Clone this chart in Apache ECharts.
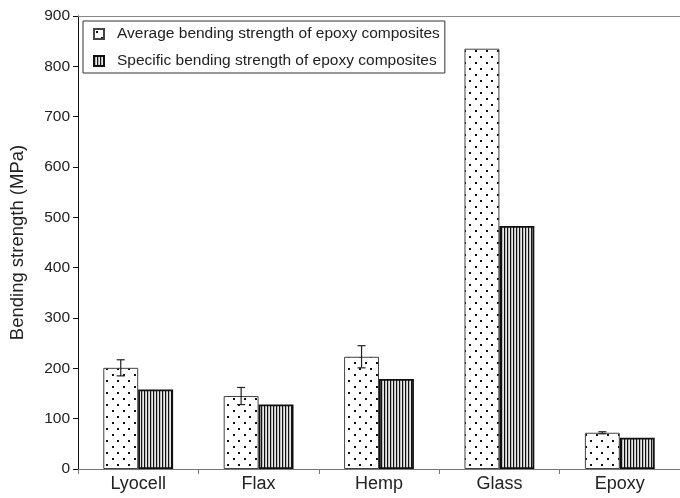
<!DOCTYPE html>
<html><head><meta charset="utf-8">
<script src="https://cdn.jsdelivr.net/npm/echarts@6/dist/echarts.min.js"></script>
<style>html,body{margin:0;padding:0;background:#fff}#c{width:680px;height:498px}</style>
</head><body><div id="c"></div>
<script>
const categories = ['Lyocell', 'Flax', 'Hemp', 'Glass', 'Epoxy'];
const avgStrength = [201, 145, 223, 835, 72];
const avgError = [16, 17, 22, 0, 2];
const specStrength = [158, 128, 179, 483, 62];
const seriesNames = ['Average bending strength of epoxy composites', 'Specific bending strength of epoxy composites'];
const yTicks = { min: 0, max: 900, interval: 100 };

function dotsPattern() {
  const c = document.createElement('canvas');
  c.width = 11; c.height = 12;
  const g = c.getContext('2d');
  g.fillStyle = '#fff'; g.fillRect(0, 0, 11, 12);
  g.fillStyle = '#111';
  g.fillRect(2, 2, 2, 2);
  g.fillRect(7, 8, 2, 2);
  return c;
}
function stripesPattern() {
  const c = document.createElement('canvas');
  c.width = 3; c.height = 4;
  const g = c.getContext('2d');
  g.fillStyle = '#111'; g.fillRect(0, 0, 1, 4);
  g.fillStyle = '#bbb'; g.fillRect(1, 0, 1, 4);
  g.fillStyle = '#e8e8e8'; g.fillRect(2, 0, 1, 4);
  return c;
}
const FONT = 'Liberation Sans, Arial, sans-serif';
const chart = echarts.init(document.getElementById('c'), null, { renderer: 'canvas' });
const errData = categories.map((c, i) => [i, avgStrength[i], avgError[i]]);

chart.setOption({
  animation: false,
  backgroundColor: '#fff',
  textStyle: { fontFamily: FONT },
  grid: { left: 77, right: 0, top: 16, bottom: 29, containLabel: false },
  legend: {
    orient: 'vertical', left: 83, top: 21,
    padding: [5, 5, 4, 10],
    itemWidth: 10, itemHeight: 10, itemGap: 11,
    icon: 'rect',
    borderColor: '#333', borderWidth: 1,
    textStyle: { fontFamily: FONT, fontSize: 15.5, color: '#222', padding: [0, 0, 0, 8] },
    data: seriesNames
  },
  xAxis: [{
    type: 'category', data: categories,
    axisLine: { lineStyle: { color: '#777', width: 1 } },
    axisTick: { show: true, alignWithLabel: false, length: 5, lineStyle: { color: '#777' } },
    axisLabel: { fontFamily: FONT, fontSize: 18, color: '#222', margin: 6 }
  }, {
    type: 'category', data: categories, position: 'top',
    axisLine: { lineStyle: { color: '#888', width: 1 } },
    axisTick: { show: false }, axisLabel: { show: false }
  }],
  yAxis: {
    type: 'value', min: yTicks.min, max: yTicks.max, interval: yTicks.interval,
    name: 'Bending strength (MPa)', nameLocation: 'middle', nameRotate: 90, nameGap: 51,
    nameTextStyle: { fontFamily: FONT, fontSize: 18.5, color: '#222' },
    axisLine: { show: true, lineStyle: { color: '#111', width: 1 } },
    axisTick: { show: true, length: 5, lineStyle: { color: '#111' } },
    axisLabel: { fontFamily: FONT, fontSize: 15.5, color: '#222', margin: 8 },
    splitLine: { show: false }
  },
  series: [{
    name: seriesNames[0], type: 'bar', data: avgStrength,
    barGap: '0%', barCategoryGap: '42%',
    itemStyle: { color: { image: dotsPattern(), repeat: 'repeat' }, borderColor: '#444', borderWidth: 1 }
  }, {
    name: seriesNames[1], type: 'bar', data: specStrength,
    barGap: '0%', barCategoryGap: '42%',
    itemStyle: { color: { image: stripesPattern(), repeat: 'repeat' }, borderColor: '#111', borderWidth: 1.8 }
  }, {
    type: 'custom', data: errData, z: 10,
    renderItem: function (params, api) {
      const i = api.value(0), v = api.value(1), e = api.value(2);
      if (!e) return null;
      const band = api.size([1, 0])[0];
      const off = -band * 0.29 / 2;
      const top = api.coord([i, v + e]);
      const bot = api.coord([i, v - e]);
      const x = top[0] + off;
      const st = { stroke: '#222', lineWidth: 1.2 };
      return { type: 'group', children: [
        { type: 'line', shape: { x1: x, y1: top[1], x2: x, y2: bot[1] }, style: st },
        { type: 'line', shape: { x1: x - 4, y1: top[1], x2: x + 4, y2: top[1] }, style: st },
        { type: 'line', shape: { x1: x - 4, y1: bot[1], x2: x + 4, y2: bot[1] }, style: st }
      ]};
    }
  }]
});
</script></body></html>
